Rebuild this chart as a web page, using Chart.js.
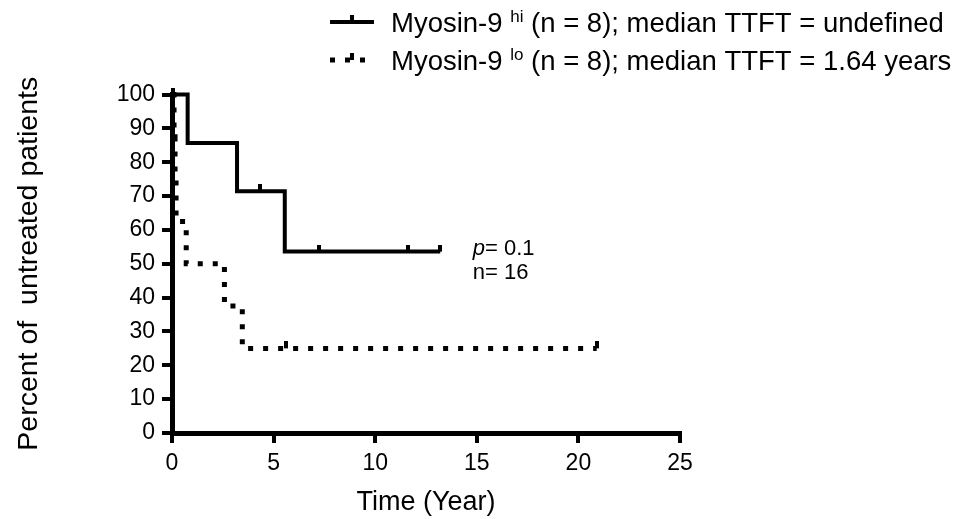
<!DOCTYPE html>
<html>
<head>
<meta charset="utf-8">
<script src="https://cdn.jsdelivr.net/npm/chart.js@4.4.1/dist/chart.umd.min.js"></script>
<style>
  html, body { margin: 0; padding: 0; background: #fff; }
  #wrap { width: 961px; height: 519px; position: relative; }
</style>
</head>
<body>
<div id="wrap"><canvas id="km"></canvas></div>
<script>
// Kaplan-Meier steps (time in years, percent of untreated patients)
const hiTimes = [0, 0.77, 3.2, 5.55, 13.2];
const hiSurv = [100, 85.7, 71.4, 53.6, 53.6];
const hiCensorTimes = [0.07, 4.35, 7.25, 11.63, 13.2];
const hiCensorSurv = [100, 71.4, 53.6, 53.6, 53.6];

const loTimes = [0, 0.1, 0.15, 0.2, 0.7, 2.58, 3.46, 20.9];
const loSurv = [100, 87.5, 75, 62.5, 50, 37.5, 25, 25];
const loCensorTimes = [5.6, 20.9];
const loCensorSurv = [25, 25];

const legendMain = ['Myosin-9 ', 'Myosin-9 '];
const legendSup = ['hi', 'lo'];
const legendRest = [' (n = 8); median TTFT = undefined', ' (n = 8); median TTFT = 1.64 years'];
const statP = '0.1';
const statN = '16';

const FONT = 'Arial, "Liberation Sans", Helvetica, sans-serif';
const LO_DASH = [5, 10];

function pts(xs, ys) {
  return xs.map((x, i) => ({ x: x, y: ys[i] }));
}

// censor tick: short bar that sits on top of the curve
function makeCensorMark(w, h) {
  const c = document.createElement('canvas');
  c.width = w;
  c.height = h * 2;
  const g = c.getContext('2d');
  g.fillStyle = '#000';
  g.fillRect(0, 0, w, h);
  return c;
}
const censorMark = makeCensorMark(4, 7);

// legend rows + p-value note, drawn straight on the canvas
const notes = {
  id: 'notes',
  afterDraw(chart) {
    const ctx = chart.ctx;
    ctx.save();
    ctx.fillStyle = '#000';
    ctx.strokeStyle = '#000';
    ctx.textBaseline = 'alphabetic';

    const rowY = [22, 60];
    for (let i = 0; i < 2; i++) {
      const y = rowY[i];
      ctx.lineWidth = i === 0 ? 4 : 5;
      ctx.setLineDash(i === 0 ? [] : LO_DASH);
      ctx.beginPath();
      ctx.moveTo(330, y);
      ctx.lineTo(374, y);
      ctx.stroke();
      ctx.setLineDash([]);
      ctx.drawImage(censorMark, 350, y - 7);

      let x = 391;
      const base = y + 10;
      ctx.font = '27.5px ' + FONT;
      ctx.fillText(legendMain[i], x, base);
      x += ctx.measureText(legendMain[i]).width;
      ctx.font = '17px ' + FONT;
      ctx.fillText(legendSup[i], x, base - 10);
      x += ctx.measureText(legendSup[i]).width;
      ctx.font = '27.5px ' + FONT;
      ctx.fillText(legendRest[i], x, base);
    }

    // statistics note beside the curves
    const xs = chart.scales.x, ys = chart.scales.y;
    const nx = xs.getPixelForValue(14.8);
    let ny = ys.getPixelForValue(52.5);
    ctx.font = 'italic 22px ' + FONT;
    ctx.fillText('p', nx, ny);
    const pw = ctx.measureText('p').width;
    ctx.font = '22px ' + FONT;
    ctx.fillText('= ' + statP, nx + pw, ny);
    ny += 24;
    ctx.fillText('n= ' + statN, nx, ny);
    ctx.restore();
  }
};

new Chart(document.getElementById('km'), {
  type: 'line',
  data: {
    datasets: [
      {
        data: pts(loTimes, loSurv),
        stepped: true,
        borderColor: '#000',
        borderWidth: 5,
        borderDash: LO_DASH,
        borderCapStyle: 'butt',
        pointRadius: 0,
        fill: false,
        clip: false
      },
      {
        data: pts(loCensorTimes, loCensorSurv),
        showLine: false,
        pointStyle: censorMark,
        pointRadius: 4,
        clip: false
      },
      {
        data: pts(hiTimes, hiSurv),
        stepped: true,
        borderColor: '#000',
        borderWidth: 4,
        pointRadius: 0,
        fill: false,
        clip: false
      },
      {
        data: pts(hiCensorTimes, hiCensorSurv),
        showLine: false,
        pointStyle: censorMark,
        pointRadius: 4,
        clip: false
      }
    ]
  },
  options: {
    responsive: true,
    maintainAspectRatio: false,
    animation: false,
    devicePixelRatio: 1,
    layout: { padding: { left: 0, top: 94.5, right: 281, bottom: 0 } },
    plugins: {
      legend: { display: false },
      tooltip: { enabled: false }
    },
    scales: {
      x: {
        type: 'linear',
        min: 0,
        max: 25,
        afterFit(scale) { scale.height = 86; },
        border: { display: true, color: '#000', width: 5 },
        grid: { drawOnChartArea: false, drawTicks: true, tickLength: 10, color: '#000', lineWidth: 4 },
        ticks: { stepSize: 5, color: '#000', padding: 7, font: { family: FONT, size: 23 } },
        title: { display: true, text: 'Time (Year)', color: '#000', padding: { top: 0, bottom: 0 }, font: { family: FONT, size: 27 } }
      },
      y: {
        min: 0,
        max: 100,
        afterFit(scale) { scale.width = 172; },
        border: { display: true, color: '#000', width: 5 },
        grid: { drawOnChartArea: false, drawTicks: true, tickLength: 10, color: '#000', lineWidth: 4 },
        ticks: { stepSize: 10, color: '#000', padding: 7, font: { family: FONT, size: 23 } },
        title: { display: true, text: 'Percent of  untreated patients', color: '#000', padding: { top: 12, bottom: 0 }, font: { family: FONT, size: 28.5 } }
      }
    }
  },
  plugins: [notes]
});
</script>
</body>
</html>
